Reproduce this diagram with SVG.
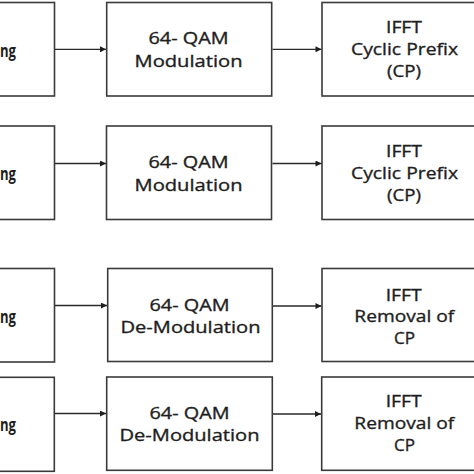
<svg xmlns="http://www.w3.org/2000/svg" width="474" height="474" viewBox="0 0 474 474">
<style>
.box{fill:#fff;stroke:#3a3a3a;stroke-width:1.6}
.t{font-family:"Open Sans","Noto Sans","Liberation Sans",sans-serif;font-size:17px;fill:#1e1e1e;stroke:#1e1e1e;stroke-width:0.35;text-anchor:middle}
.tl{font-family:"Open Sans","Noto Sans","Liberation Sans",sans-serif;font-size:17px;font-weight:bold;fill:#1e1e1e}
.c{stroke:#2a2a2a;stroke-width:1.3;fill:none;marker-end:url(#ah)}
</style>
<defs>
<marker id="ah" viewBox="0 0 10 10" refX="10" refY="5" markerUnits="userSpaceOnUse" markerWidth="8" markerHeight="6" orient="auto">
<path d="M0,0 L10,5 L0,10 z" fill="#1e1e1e"/>
</marker>
</defs>
<rect width="474" height="474" fill="#fff"/>

<g id="left1"><rect class="box" x="-111" y="2.5" width="165.5" height="93.5"/><text class="tl" x="0" y="56.5" textLength="16" lengthAdjust="spacingAndGlyphs">ng</text></g>
<g id="mod1"><rect class="box" x="106.7" y="2.5" width="165" height="93.5"/>
<text class="t" x="188.5" y="44" textLength="80" lengthAdjust="spacingAndGlyphs">64- QAM</text>
<text class="t" x="188.5" y="66.5" textLength="108" lengthAdjust="spacingAndGlyphs">Modulation</text></g>
<g id="ifft1"><rect class="box" x="322" y="2.5" width="165" height="93.5"/>
<text class="t" x="404" y="33" textLength="36" lengthAdjust="spacingAndGlyphs">IFFT</text>
<text class="t" x="404.5" y="55.3" textLength="107" lengthAdjust="spacingAndGlyphs">Cyclic Prefix</text>
<text class="t" x="404" y="77.3" textLength="34" lengthAdjust="spacingAndGlyphs">(CP)</text></g>

<g id="left2"><rect class="box" x="-111" y="126" width="165.5" height="93.5"/><text class="tl" x="0" y="180" textLength="16" lengthAdjust="spacingAndGlyphs">ng</text></g>
<g id="mod2"><rect class="box" x="106.5" y="126" width="165" height="93.5"/>
<text class="t" x="188.5" y="168" textLength="80" lengthAdjust="spacingAndGlyphs">64- QAM</text>
<text class="t" x="188.5" y="190.5" textLength="108" lengthAdjust="spacingAndGlyphs">Modulation</text></g>
<g id="ifft2"><rect class="box" x="322" y="126" width="165" height="93.5"/>
<text class="t" x="404" y="157" textLength="36" lengthAdjust="spacingAndGlyphs">IFFT</text>
<text class="t" x="404.5" y="179.3" textLength="107" lengthAdjust="spacingAndGlyphs">Cyclic Prefix</text>
<text class="t" x="404" y="201" textLength="34" lengthAdjust="spacingAndGlyphs">(CP)</text></g>

<g id="left3"><rect class="box" x="-111" y="268.5" width="165.5" height="93.5"/><text class="tl" x="0" y="322.5" textLength="16" lengthAdjust="spacingAndGlyphs">ng</text></g>
<g id="demod3"><rect class="box" x="107.7" y="268.5" width="164.6" height="93"/>
<text class="t" x="189.5" y="310.7" textLength="80" lengthAdjust="spacingAndGlyphs">64- QAM</text>
<text class="t" x="190.5" y="332.7" textLength="140" lengthAdjust="spacingAndGlyphs">De-Modulation</text></g>
<g id="ifft3"><rect class="box" x="322" y="268.5" width="165" height="93"/>
<text class="t" x="403.7" y="300.5" textLength="36" lengthAdjust="spacingAndGlyphs">IFFT</text>
<text class="t" x="404.3" y="322" textLength="100" lengthAdjust="spacingAndGlyphs">Removal of</text>
<text class="t" x="404.5" y="343.5" textLength="21" lengthAdjust="spacingAndGlyphs">CP</text></g>

<g id="left4"><rect class="box" x="-111" y="377.3" width="165.3" height="94"/><text class="tl" x="0" y="430.5" textLength="16" lengthAdjust="spacingAndGlyphs">ng</text></g>
<g id="demod4"><rect class="box" x="106.7" y="377" width="165.6" height="93.3"/>
<text class="t" x="189.5" y="419.3" textLength="80" lengthAdjust="spacingAndGlyphs">64- QAM</text>
<text class="t" x="189.5" y="441" textLength="140" lengthAdjust="spacingAndGlyphs">De-Modulation</text></g>
<g id="ifft4"><rect class="box" x="321.7" y="377" width="165" height="93.3"/>
<text class="t" x="403.7" y="406.7" textLength="36" lengthAdjust="spacingAndGlyphs">IFFT</text>
<text class="t" x="404.3" y="429" textLength="100" lengthAdjust="spacingAndGlyphs">Removal of</text>
<text class="t" x="404.5" y="450.7" textLength="21" lengthAdjust="spacingAndGlyphs">CP</text></g>

<g id="connectors">
<line class="c" x1="55" y1="49.3" x2="106" y2="49.3"/>
<line class="c" x1="272.5" y1="49.3" x2="321.5" y2="49.3"/>
<line class="c" x1="55" y1="163.5" x2="106" y2="163.5"/>
<line class="c" x1="272.5" y1="163.5" x2="321.5" y2="163.5"/>
<line class="c" x1="55" y1="305.5" x2="107" y2="305.5"/>
<line class="c" x1="273" y1="306" x2="321.5" y2="306"/>
<line class="c" x1="55" y1="413.5" x2="106" y2="413.5"/>
<line class="c" x1="273" y1="414" x2="321" y2="414"/>
</g>
</svg>
